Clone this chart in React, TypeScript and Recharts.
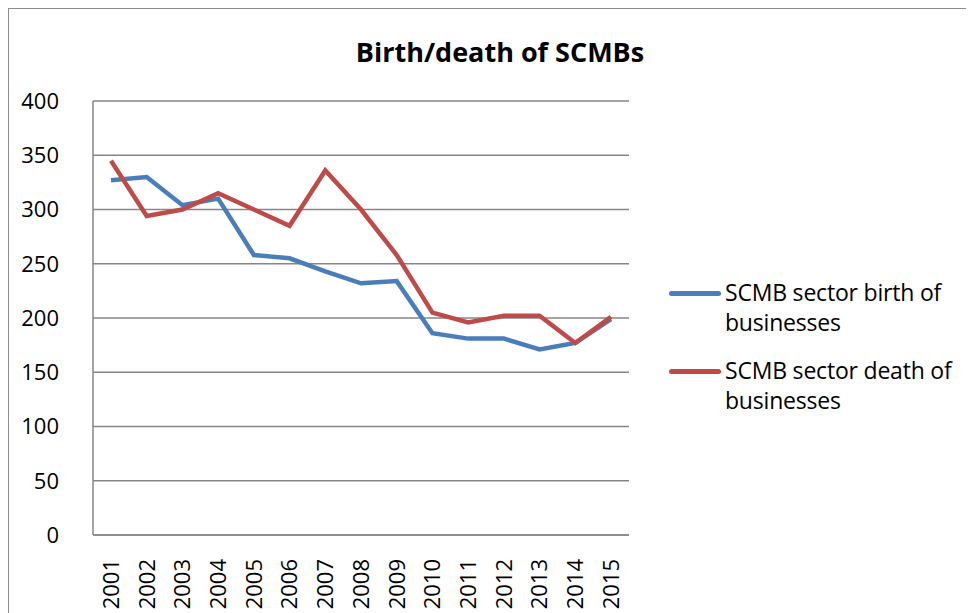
import React from 'react'
import { LineChart, Line, XAxis, YAxis, CartesianGrid, Legend } from 'recharts'

const years = ['2001', '2002', '2003', '2004', '2005', '2006', '2007', '2008', '2009', '2010', '2011', '2012', '2013', '2014', '2015']
const births = [327, 330, 304, 310, 258, 255, 243, 232, 234, 186, 181, 181, 171, 177, 199]
const deaths = [345, 294, 300, 315, 300, 285, 336, 300, 258, 205, 196, 202, 202, 177, 201]
const yTicks = [0, 50, 100, 150, 200, 250, 300, 350, 400]

const BLUE = '#4A7EBB'
const RED = '#BE4B48'
const GRID = '#868686'
const FONT = '"Open Sans", "Liberation Sans", sans-serif'

const data = years.map((year, i) => ({ year, birth: births[i], death: deaths[i] }))

const YearTick = (props: any) => {
  const { x, y, payload } = props
  return (
    <g transform={`translate(${x},${y})`}>
      <text transform="rotate(-90)" textAnchor="end" dy="0.36em" fontSize={22} fill="#000" fontFamily={FONT}>
        {payload.value}
      </text>
    </g>
  )
}

const LegendBox = (props: any) => {
  const items = props.payload || []
  return (
    <div style={{ fontFamily: FONT, fontSize: 23, color: '#000' }}>
      {items.map((it: any) => (
        <div key={it.value} style={{ display: 'flex', alignItems: 'flex-start', marginBottom: 18 }}>
          <div style={{ width: 52, height: 5, borderRadius: 3, background: it.color, marginTop: 14, marginRight: 4 }} />
          <div style={{ width: 252, lineHeight: '30px', letterSpacing: -0.2 }}>{it.value}</div>
        </div>
      ))}
    </div>
  )
}

export default function App() {
  return (
    <div style={{ position: 'relative', width: 964, height: 620, border: '1px solid #8c8c8c', background: '#fff' }}>
      <div style={{ position: 'absolute', left: 0, width: 982, top: 24, textAlign: 'center', fontFamily: FONT, fontWeight: 700, fontSize: 27, color: '#000' }}>
        Birth/death of SCMBs
      </div>
      <LineChart width={964} height={604} data={data} margin={{ top: 92, right: 34, left: 0, bottom: 0 }}>
        <CartesianGrid vertical={false} stroke={GRID} strokeWidth={1.5} />
        <XAxis dataKey="year" height={78} tick={<YearTick />} tickLine={false} axisLine={{ stroke: GRID, strokeWidth: 1.5 }} tickMargin={18} interval={0} padding={{ left: 18, right: 18 }} />
        <YAxis domain={[0, 400]} ticks={yTicks} width={84} tickLine={false} axisLine={{ stroke: GRID, strokeWidth: 1.5 }} tickMargin={28} tick={{ fontSize: 22, fill: '#000', fontFamily: FONT }} />
        <Legend layout="vertical" align="right" verticalAlign="top" content={<LegendBox />} wrapperStyle={{ left: 660, top: 268, width: 310 }} />
        <Line dataKey="birth" name="SCMB sector birth of businesses" stroke={BLUE} strokeWidth={4.5} dot={false} isAnimationActive={false} />
        <Line dataKey="death" name="SCMB sector death of businesses" stroke={RED} strokeWidth={4.5} dot={false} isAnimationActive={false} />
      </LineChart>
    </div>
  )
}
